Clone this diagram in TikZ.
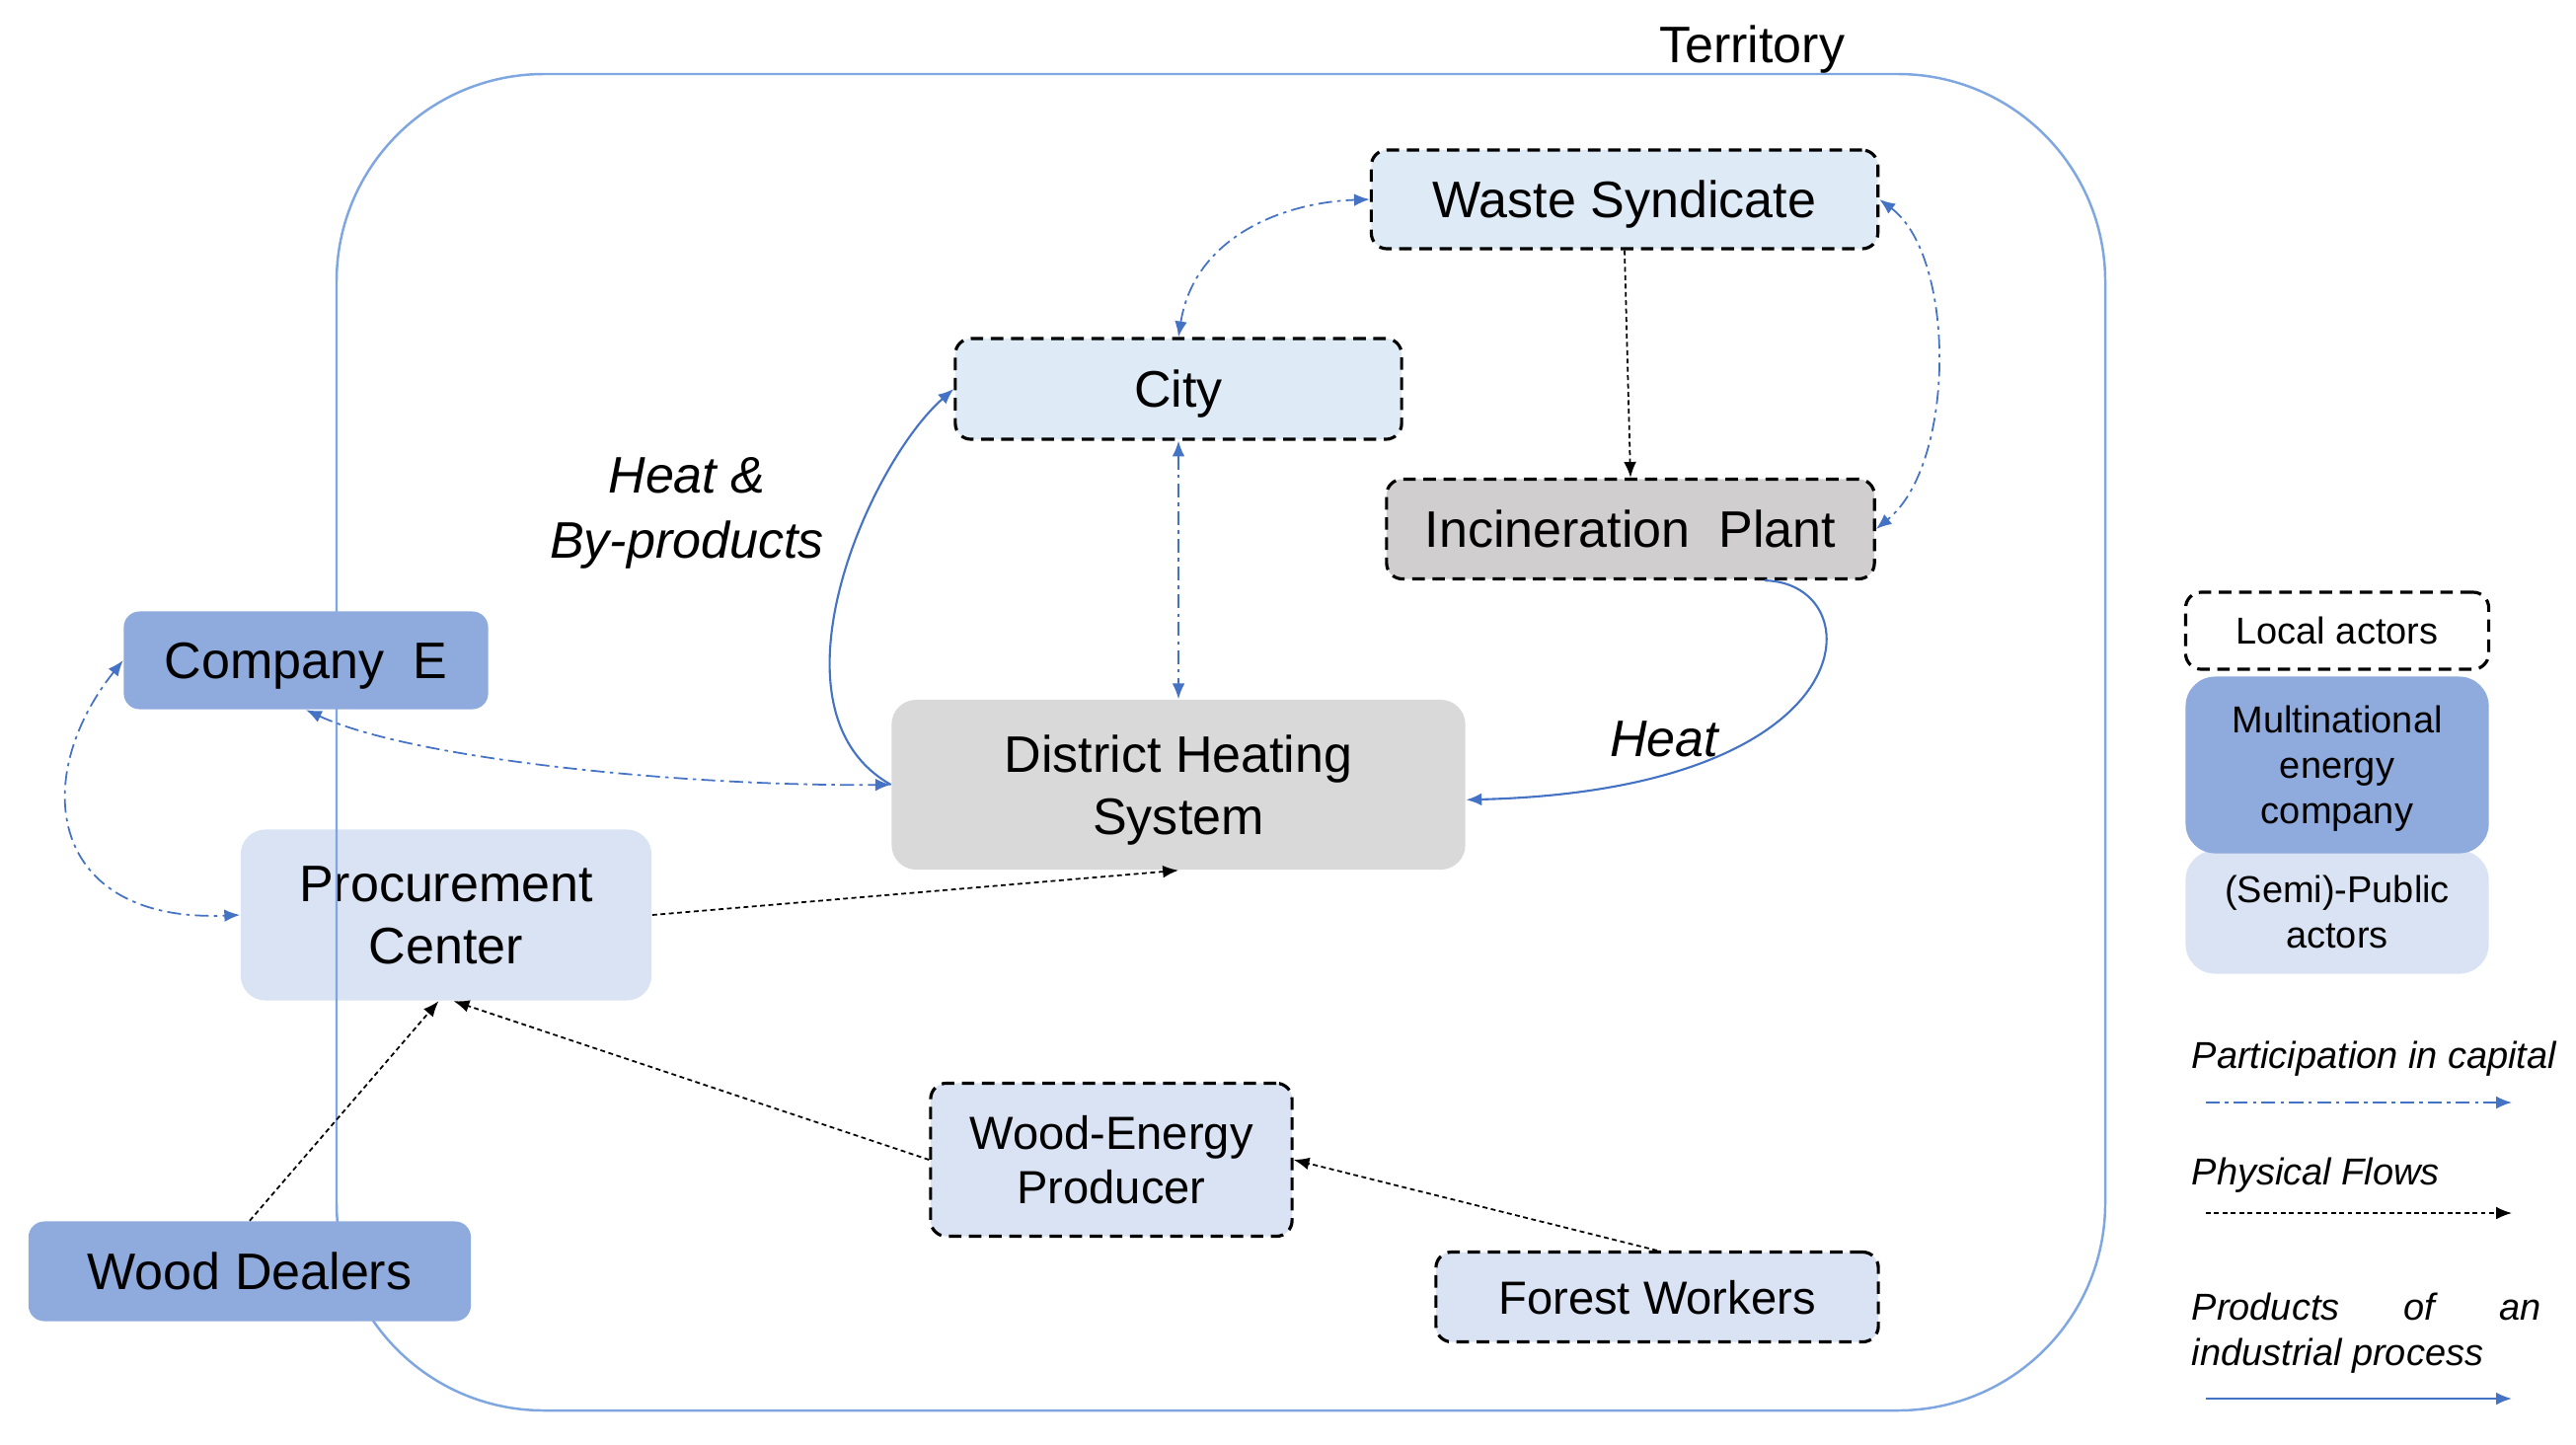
\documentclass[tikz,border=0pt]{standalone}
\usepackage{fontspec}
\setmainfont{Liberation Sans}
\usetikzlibrary{arrows.meta}
\definecolor{multi}{HTML}{8FAADC}
\definecolor{public}{HTML}{DAE3F3}
\definecolor{localblue}{HTML}{DEEBF7}
\definecolor{plantgray}{HTML}{D0CECE}
\definecolor{heatgray}{HTML}{D9D9D9}
\definecolor{flowblue}{HTML}{4472C4}
\definecolor{terr}{HTML}{7EA6E0}

\begin{document}
\begin{tikzpicture}[x=0.01cm,y=-0.01cm,
      >={Latex[length=4.5pt,width=3.6pt]},
      actor/.style={rounded corners=0.16cm,inner sep=0pt,align=center,text depth=0pt,font=\fontsize{14.8}{18}\selectfont},
      small/.style={font=\fontsize{13.4}{15.6}\selectfont},
      key/.style={font=\fontsize{10.8}{13.1}\selectfont},
      local/.style={draw=black,line width=0.9pt,dash pattern=on 3.6pt off 2.2pt},
      capital/.style={flowblue,line width=0.5pt,dash pattern=on 4pt off 1.5pt on 1pt off 1.5pt},
      physical/.style={black,line width=0.5pt,dash pattern=on 1.4pt off 1pt},
      products/.style={flowblue,line width=0.6pt}]
      \useasboundingbox (0,0) rectangle (2610,1463);
      \node[actor,fill=public,rounded corners=0.25cm,minimum width=4.16cm,minimum height=1.73cm] (procure) at (452,927) {Procurement\\Center};
      \draw[terr,line width=0.7pt,rounded corners=2.1cm] (341,75) rectangle (2133,1429);
      \node[actor,local,fill=localblue,minimum width=5.13cm,minimum height=1cm] (waste) at (1646,202) {Waste Syndicate};
      \node[actor,local,fill=localblue,minimum width=4.52cm,minimum height=1.02cm] (city) at (1194,394) {City};
      \node[actor,local,fill=plantgray,minimum width=4.94cm,minimum height=1.01cm] (plant) at (1652,536) {Incineration\ \ Plant};
      \node[actor,fill=heatgray,rounded corners=0.25cm,minimum width=5.81cm,minimum height=1.72cm] (heating) at (1194,795) {District Heating\\System};
      \node[actor,fill=multi,minimum width=3.69cm,minimum height=0.99cm] (compe) at (310,669) {Company\ \ E};
      \node[actor,fill=multi,minimum width=4.48cm,minimum height=1.01cm] (dealers) at (253,1288) {Wood Dealers};
      \node[actor,local,small,fill=public,minimum width=3.66cm,minimum height=1.55cm] (producer) at (1126,1175) {Wood-Energy\\Producer};
      \node[actor,local,small,fill=public,minimum width=4.48cm,minimum height=0.91cm] (workers) at (1679,1314) {Forest Workers};
      \node[font=\fontsize{14.8}{18}\selectfont] (territory) at (1775,50) {Territory};
      \node[align=center,font=\fontsize{14.8}{18.8}\selectfont\itshape] (byprod) at (696,520) {Heat \&\\By-products};
      \node[font=\fontsize{14.8}{18}\selectfont\itshape] (heat) at (1686,749) {Heat};
      \draw[capital,<->] (city.north) .. controls (1210,240) and (1300,205) .. (waste.west);
      \draw[capital,<->] (city.south) -- (heating.north);
      \draw[physical,->] (waste.south) -- (plant.north);
      \draw[capital,<->] (waste.east) .. controls (1982,260) and (1982,470) .. (plant.east);
      \draw[products,->] (plant.-21) .. controls (1898,590) and (1898,800) .. (heating.-3);
      \draw[products,->] (heating.west) .. controls (770,720) and (880,470) .. (city.west);
      \draw[capital,<->] (compe.south) .. controls (420,770) and (700,797) .. (heating.west);
      \draw[capital,<->] (compe.west) .. controls (28,790) and (50,935) .. (procure.west);
      \draw[physical,->] (procure.east) -- (heating.south);
      \draw[physical,->] (dealers.north) -- (procure.265);
      \draw[physical,->] (producer.west) -- (procure.275);
      \draw[physical,->] (workers.north) -- (producer.east);
      \node[actor,local,key,fill=white,minimum width=3.07cm,minimum height=0.78cm] (keylocal) at (2368,639) {Local actors};
      \node[actor,key,fill=public,rounded corners=0.3cm,minimum width=3.07cm,minimum height=1.25cm] (keypublic) at (2368,924) {(Semi)-Public\\actors};
      \node[actor,key,fill=multi,rounded corners=0.3cm,minimum width=3.07cm,minimum height=1.79cm] (keymulti) at (2368,775) {Multinational\\energy\\company};
      \node[key,anchor=west,inner sep=0pt] (keycapital) at (2220,1073) {\itshape Participation in capital};
      \node[key,anchor=west,inner sep=0pt] (keyflow) at (2220,1191) {\itshape Physical Flows};
      \node[key,anchor=west,inner sep=0pt,align=left] (keyprod) at (2220,1351) {\itshape\makebox[3.54cm][s]{Products of an}\\\itshape industrial process};
      \coordinate (capA) at (2235,1117);
      \coordinate (capB) at (2545,1117);
      \coordinate (flowA) at (2235,1229);
      \coordinate (flowB) at (2545,1229);
      \coordinate (prodA) at (2235,1417);
      \coordinate (prodB) at (2545,1417);
      \draw[capital,->] (capA) -- (capB);
      \draw[physical,->] (flowA) -- (flowB);
      \draw[products,->] (prodA) -- (prodB);
    \end{tikzpicture}
\end{document}
